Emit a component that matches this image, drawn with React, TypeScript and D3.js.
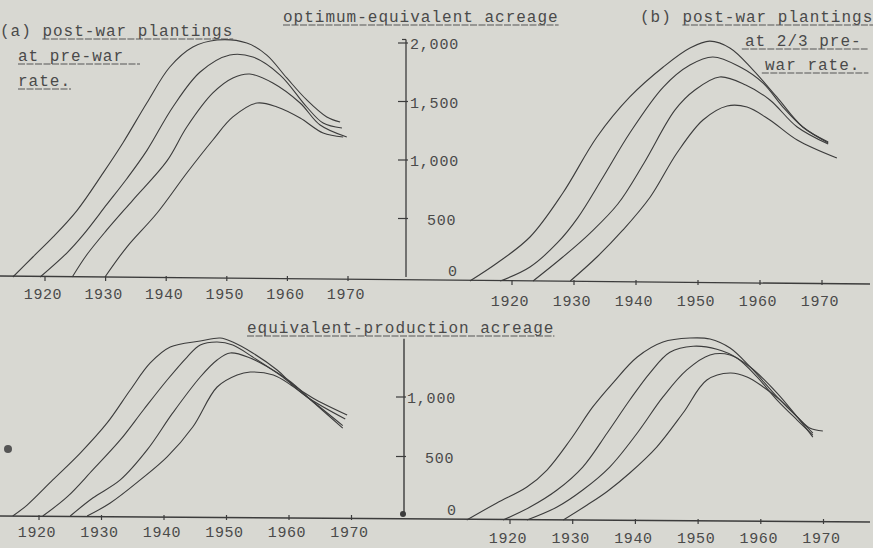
import React from "react";
import * as d3 from "d3";

const years = [1920, 1930, 1940, 1950, 1960, 1970];
const topTicks = [0, 500, 1000, 1500, 2000];
const bottomTicks = [0, 500, 1000];

// optimum-equivalent acreage, (a) post-war plantings at pre-war rate
const optA1 = [[1914.7, 0], [1918.0, 171], [1921.3, 340], [1925.3, 570], [1929.6, 890], [1932.9, 1150], [1936.8, 1487], [1940.6, 1795], [1944.4, 1966], [1948.4, 2026], [1953.3, 2000], [1956.6, 1897], [1959.9, 1701], [1963.2, 1513], [1966.5, 1368], [1968.7, 1325]];
const optA2 = [[1919.2, 0], [1923.6, 205], [1926.3, 360], [1930.2, 620], [1933.5, 840], [1936.8, 1080], [1941.1, 1453], [1945.6, 1752], [1950.5, 1897], [1954.3, 1880], [1958.8, 1726], [1963.2, 1453], [1965.9, 1316], [1969.0, 1274]];
const optA3 = [[1924.5, 0], [1926.9, 190], [1930.2, 402], [1934.5, 658], [1940.1, 990], [1943.4, 1282], [1947.7, 1573], [1951.0, 1701], [1953.8, 1735], [1957.6, 1658], [1962.1, 1487], [1965.4, 1299], [1969.8, 1197]];
const optA4 = [[1929.9, 0], [1933.5, 256], [1938.5, 547], [1943.4, 889], [1947.7, 1171], [1951.0, 1368], [1955.0, 1487], [1958.3, 1453], [1962.1, 1359], [1965.9, 1231], [1969.2, 1197]];

// optimum-equivalent acreage, (b) post-war plantings at 2/3 pre-war rate
const optB1 = [[1913.2, 0], [1917.6, 154], [1922.9, 376], [1928.2, 752], [1933.7, 1231], [1939.0, 1573], [1944.4, 1829], [1948.7, 1991], [1951.9, 2050], [1955.2, 1990], [1958.9, 1803], [1962.7, 1573], [1966.9, 1316], [1971.0, 1188]];
const optB2 = [[1918.1, 0], [1922.9, 120], [1927.3, 325], [1930.6, 540], [1934.7, 889], [1939.0, 1265], [1944.4, 1658], [1948.7, 1846], [1952.4, 1915], [1956.8, 1829], [1960.5, 1692], [1963.7, 1487], [1966.9, 1316], [1971.0, 1180]];
const optB3 = [[1923.4, 0], [1928.2, 205], [1932.6, 410], [1937.1, 660], [1941.3, 1009], [1946.3, 1462], [1949.5, 1632], [1953.5, 1744], [1957.7, 1675], [1961.6, 1547], [1966.0, 1316], [1971.0, 1170]];
const optB4 = [[1929.4, 0], [1933.7, 205], [1937.9, 436], [1942.3, 718], [1946.6, 1094], [1950.8, 1376], [1954.7, 1496], [1957.9, 1487], [1961.6, 1376], [1966.0, 1205], [1972.4, 1051]];

// equivalent-production acreage, (a)
const prodA1 = [[1915.8, 0], [1918.1, 92], [1922.2, 303], [1926.6, 529], [1930.9, 782], [1934.6, 1059], [1937.8, 1286], [1941.0, 1420], [1945.8, 1470], [1949.0, 1496], [1951.0, 1462], [1954.2, 1370], [1958.1, 1227], [1960.7, 1101], [1963.8, 992], [1969.3, 849]];
const prodA2 = [[1920.6, 0], [1924.5, 160], [1928.6, 387], [1933.0, 639], [1936.7, 891], [1940.5, 1143], [1943.7, 1336], [1945.8, 1437], [1948.5, 1462], [1951.0, 1437], [1954.2, 1336], [1959.0, 1168], [1962.9, 1000], [1969.0, 815]];
const prodA3 = [[1925.0, 0], [1928.6, 151], [1933.0, 303], [1937.3, 555], [1941.4, 866], [1945.8, 1168], [1948.5, 1311], [1950.6, 1370], [1953.8, 1328], [1956.6, 1252], [1960.3, 1126], [1963.5, 975], [1968.6, 739]];
const prodA4 = [[1927.7, 0], [1931.4, 109], [1936.2, 303], [1940.5, 496], [1944.6, 748], [1948.5, 1084], [1951.7, 1185], [1953.8, 1210], [1957.5, 1185], [1960.3, 1101], [1963.5, 975], [1968.6, 760]];

// equivalent-production acreage, (b)
const prodB1 = [[1913.1, 0], [1917.9, 143], [1922.7, 277], [1925.9, 420], [1929.6, 672], [1933.2, 950], [1936.4, 1151], [1940.3, 1370], [1944.4, 1496], [1948.7, 1529], [1951.9, 1521], [1955.1, 1445], [1958.3, 1286], [1962.6, 1034], [1965.8, 866], [1967.8, 773], [1969.9, 748]];
const prodB2 = [[1918.9, 0], [1923.2, 109], [1927.5, 252], [1931.6, 445], [1935.5, 731], [1939.1, 1008], [1942.3, 1235], [1945.5, 1410], [1949.2, 1460], [1953.0, 1435], [1956.2, 1361], [1959.4, 1202], [1962.6, 1008], [1965.8, 840], [1968.3, 714]];
const prodB3 = [[1922.7, 0], [1927.5, 109], [1931.6, 252], [1935.9, 445], [1940.3, 731], [1944.4, 1034], [1948.2, 1261], [1951.9, 1387], [1955.1, 1387], [1958.3, 1286], [1962.6, 1067], [1965.8, 866], [1968.3, 697]];
const prodB4 = [[1928.5, 0], [1932.3, 126], [1935.5, 240], [1939.1, 395], [1943.4, 613], [1947.6, 899], [1951.4, 1176], [1955.1, 1235], [1957.8, 1202], [1960.4, 1118], [1963.1, 1008], [1965.8, 866], [1968.3, 731]];

const ink = "#3c3c3c";
const mono = "'Liberation Mono', 'DejaVu Sans Mono', monospace";
const CH = 10.6; // typed character pitch

const panels = [
  { id: "tl", curves: [optA1, optA2, optA3, optA4], xr: [45, 348], yd: 2000, yr: [277, 43], labelY: 299 },
  { id: "tr", curves: [optB1, optB2, optB3, optB4], xr: [512, 822], yd: 2000, yr: [281, 47], labelY: 306 },
  { id: "bl", curves: [prodA1, prodA2, prodA3, prodA4], xr: [39, 351.5], yd: 1000, yr: [516, 397], labelY: 537 },
  { id: "br", curves: [prodB1, prodB2, prodB3, prodB4], xr: [510, 823.5], yd: 1000, yr: [520, 401], labelY: 543 },
];

const Typed = ({ x, y, text, from = 0, to, extra = 0 }: any) => {
  const end = to ?? text.length;
  return (
    <g>
      <text x={x} y={y} fontFamily={mono} fontSize={16} letterSpacing={1} fill="#4a4a4a">
        {text}
      </text>
      <line
        x1={x + from * CH}
        x2={x + end * CH + extra}
        y1={y + 3}
        y2={y + 3}
        stroke="#555"
        strokeWidth={1.1}
        strokeDasharray="7 1.5"
      />
    </g>
  );
};

export default function App() {
  const W = 873;
  const H = 548;
  const fmt = d3.format(",");

  const built = panels.map((p) => {
    const x = d3.scaleLinear().domain([1920, 1970]).range(p.xr);
    const y = d3.scaleLinear().domain([0, p.yd]).range(p.yr);
    const line = d3
      .line<number[]>()
      .x((d) => x(d[0]))
      .y((d) => y(d[1]))
      .curve(d3.curveCatmullRom.alpha(0.5));
    return { ...p, x, y, line };
  });
  const [tl, tr, bl, br] = built;
  const axisX = 406;
  const axisXb = 404;

  return (
    <svg width={W} height={H} style={{ position: "absolute", left: 0, top: 0, background: "#d8d8d2" }}>
      <rect width={W} height={H} fill="#d8d8d2" />

      {/* baselines */}
      <line x1={0} x2={870} y1={tl.y(0) - 1} y2={tr.y(0) + 3} stroke={ink} strokeWidth={1.3} />
      <line x1={0} x2={870} y1={bl.y(0)} y2={br.y(0) + 2} stroke={ink} strokeWidth={1.6} />

      {/* vertical axes */}
      <line x1={axisX} x2={axisX} y1={tl.y(2030)} y2={tl.y(0)} stroke={ink} strokeWidth={1.3} />
      <line x1={axisX - 4} x2={axisX} y1={tl.y(2030)} y2={tl.y(2030)} stroke={ink} strokeWidth={1.2} />
      <line x1={axisXb} x2={axisXb} y1={bl.y(1490)} y2={bl.y(0)} stroke={ink} strokeWidth={1.4} />
      <circle cx={axisXb - 1} cy={bl.y(0) - 2} r={3} fill={ink} />

      {topTicks.map((t) => (
        <g key={"yt" + t}>
          {t > 0 && <line x1={axisX - 8} x2={axisX + 2} y1={tl.y(t)} y2={tl.y(t)} stroke={ink} strokeWidth={1.2} />}
          <text
            x={t === 0 ? 448 : t < 1000 ? 427 : 410}
            y={t === 0 ? tl.y(t) - 1 : tl.y(t) + 6}
            fontFamily={mono}
            fontSize={15}
            letterSpacing={0.8}
            fill="#4a4a4a"
          >
            {fmt(t)}
          </text>
        </g>
      ))}
      {bottomTicks.map((t) => (
        <g key={"yb" + t}>
          {t > 0 && <line x1={axisXb - 8} x2={axisXb + 2} y1={bl.y(t)} y2={bl.y(t)} stroke={ink} strokeWidth={1.2} />}
          <text
            x={t === 0 ? 447 : t < 1000 ? 425 : 407}
            y={t === 0 ? bl.y(t) - 1 : bl.y(t) + 6}
            fontFamily={mono}
            fontSize={15}
            letterSpacing={0.8}
            fill="#4a4a4a"
          >
            {fmt(t)}
          </text>
        </g>
      ))}

      {built.map((p) => (
        <g key={p.id}>
          {years.map((yr) => (
            <g key={yr}>
              <line x1={p.x(yr)} x2={p.x(yr)} y1={p.y(0) - 1} y2={p.y(0) + 4} stroke={ink} strokeWidth={1.2} />
              <text
                x={p.x(yr) - 2}
                y={p.labelY}
                textAnchor="middle"
                fontFamily={mono}
                fontSize={15}
                letterSpacing={0.6}
                fill="#4a4a4a"
              >
                {yr}
              </text>
            </g>
          ))}
          {p.curves.map((c, i) => (
            <path key={i} d={p.line(c) || ""} fill="none" stroke={ink} strokeWidth={1.1} />
          ))}
        </g>
      ))}

      {/* typed titles */}
      <Typed x={283} y={22} text="optimum-equivalent acreage" />
      <Typed x={247} y={333} text="equivalent-production acreage" />
      <Typed x={0} y={36} text="(a) post-war plantings" from={4} />
      <Typed x={18} y={61} text="at pre-war" extra={16} />
      <Typed x={18} y={86} text="rate." />
      <Typed x={640} y={22} text="(b) post-war plantings" from={4} />
      <Typed x={745} y={46} text="at 2/3 pre-" from={-0.3} extra={6} />
      <Typed x={765} y={70} text="war rate." from={-0.3} extra={8} />

      <circle cx={8} cy={449} r={4} fill="#555" />
    </svg>
  );
}
